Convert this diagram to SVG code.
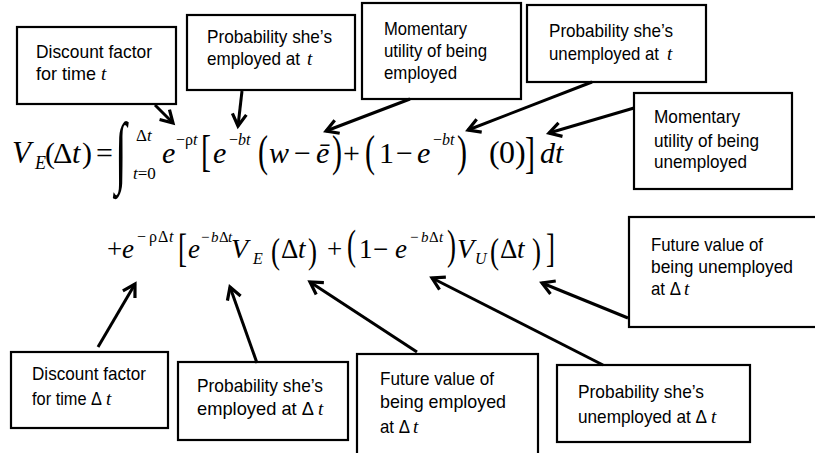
<svg xmlns="http://www.w3.org/2000/svg" width="815" height="453" viewBox="0 0 815 453">
<defs>
<style>
.box rect{fill:#fff;stroke:#000;stroke-width:2.2}
.lbl{font-family:"Liberation Sans",Arial,sans-serif;font-size:19px;fill:#000}
.it{font-family:"Liberation Serif","Times New Roman",serif;font-style:italic;font-size:19px;fill:#000}
.m{font-family:"Liberation Serif","Times New Roman",serif;fill:#000}
.i{font-style:italic}
.conn line{stroke:#000;stroke-width:3;marker-end:url(#ah)}
</style>
<marker id="ah" markerUnits="userSpaceOnUse" markerWidth="20" markerHeight="20" viewBox="0 0 20 20" refX="15" refY="10" orient="auto">
<path d="M3,3 L15,10 L3,17" fill="none" stroke="#000" stroke-width="3.2" stroke-linejoin="miter"/>
</marker>
</defs>
<rect width="815" height="453" fill="#fff"/>

<g id="equation" class="m">
<text y="163" font-size="31" class="i" x="12">V</text>
<text y="169" font-size="18" class="i" x="35">E</text>
<text y="163" font-size="30" x="45">(</text>
<text y="163" font-size="30" x="53">Δ</text>
<text y="163" font-size="30" class="i" x="72">t</text>
<text y="163" font-size="30" x="82">)</text>
<text y="163" font-size="30" x="96">=</text>
<text transform="translate(115,178) scale(1,1.9)" font-size="42">∫</text>
<text y="141" font-size="17" x="136">Δ<tspan class="i">t</tspan></text>
<text y="179" font-size="17" x="133"><tspan class="i">t</tspan>=0</text>
<text y="163" font-size="30" class="i" x="162">e</text>
<text y="145" font-size="16" x="176">−ρ<tspan class="i">t</tspan></text>
<text transform="translate(201,166) scale(1,1.5)" font-size="30">[</text>
<text y="163" font-size="30" class="i" x="213">e</text>
<text y="145" font-size="16" x="229">−<tspan class="i">bt</tspan></text>
<text transform="translate(258,166) scale(1,1.48)" font-size="30">(</text>
<text y="163" font-size="30" class="i" x="269">w</text>
<text y="163" font-size="30" x="294">−</text>
<text y="163" font-size="30" class="i" x="316">ē</text>
<text transform="translate(332,166) scale(1,1.48)" font-size="30">)</text>
<text y="163" font-size="30" x="343">+</text>
<text transform="translate(365,166) scale(1,1.48)" font-size="30">(</text>
<text y="163" font-size="30" x="379">1</text>
<text y="163" font-size="30" x="396">−</text>
<text y="163" font-size="30" class="i" x="417">e</text>
<text y="145" font-size="16" x="433">−<tspan class="i">bt</tspan></text>
<text transform="translate(457,166) scale(1,1.48)" font-size="30">)</text>
<text y="163" font-size="32" x="489">(</text>
<text y="163" font-size="32" x="499">0</text>
<text y="163" font-size="32" x="515">)</text>
<text transform="translate(525,168) scale(1,1.5)" font-size="30">]</text>
<text y="163" font-size="30" class="i" x="540">dt</text>

<text y="258" font-size="27" x="107">+</text>
<text y="258" font-size="27" class="i" x="122">e</text>
<text y="242" font-size="16"><tspan x="137">−</tspan><tspan x="149">ρ</tspan><tspan x="158">Δ</tspan><tspan x="169" class="i">t</tspan></text>
<text transform="translate(178,262) scale(1,1.45)" font-size="27">[</text>
<text y="258" font-size="27" class="i" x="188">e</text>
<text y="242" font-size="15"><tspan x="201">−</tspan><tspan x="211" class="i">b</tspan><tspan x="219">Δ</tspan><tspan x="228" class="i">t</tspan></text>
<text y="258" font-size="28" class="i" x="231">V</text>
<text y="264" font-size="16" class="i" x="253">E</text>
<text transform="translate(271,263) scale(1,1.3)" font-size="27">(</text>
<text y="258" font-size="27" x="281">Δ</text>
<text y="258" font-size="27" class="i" x="298">t</text>
<text transform="translate(308,263) scale(1,1.3)" font-size="27">)</text>
<text y="258" font-size="27" x="327">+</text>
<text transform="translate(347,259) scale(1,1.55)" font-size="27">(</text>
<text y="258" font-size="27" x="359">1</text>
<text y="258" font-size="27" x="373">−</text>
<text y="258" font-size="27" class="i" x="395">e</text>
<text y="242" font-size="15"><tspan x="410">−</tspan><tspan x="421" class="i">b</tspan><tspan x="429">Δ</tspan><tspan x="439" class="i">t</tspan></text>
<text transform="translate(447,259) scale(1,1.55)" font-size="27">)</text>
<text y="258" font-size="28" class="i" x="457">V</text>
<text y="264" font-size="16" class="i" x="475">U</text>
<text transform="translate(490,263) scale(1,1.3)" font-size="27">(</text>
<text y="258" font-size="27" x="500">Δ</text>
<text y="258" font-size="27" class="i" x="517">t</text>
<text transform="translate(532,263) scale(1,1.3)" font-size="27">)</text>
<text transform="translate(546,262) scale(1,1.45)" font-size="27">]</text>
</g>

<g id="n1" class="box"><rect x="17" y="27" width="159" height="77"/>
<text class="lbl" x="36" y="58" textLength="116" lengthAdjust="spacingAndGlyphs">Discount factor</text>
<text class="lbl" x="36" y="80" textLength="60" lengthAdjust="spacingAndGlyphs">for time</text>
<text class="it" x="101" y="80">t</text></g>

<g id="n2" class="box"><rect x="187" y="15" width="168" height="75"/>
<text class="lbl" x="207" y="43" textLength="125" lengthAdjust="spacingAndGlyphs">Probability she’s</text>
<text class="lbl" x="207" y="65" textLength="93" lengthAdjust="spacingAndGlyphs">employed at</text>
<text class="it" x="307" y="65">t</text></g>

<g id="n3" class="box"><rect x="362" y="3" width="159" height="96"/>
<text class="lbl" x="384" y="35" textLength="83" lengthAdjust="spacingAndGlyphs">Momentary</text>
<text class="lbl" x="384" y="57" textLength="103" lengthAdjust="spacingAndGlyphs">utility of being</text>
<text class="lbl" x="384" y="79" textLength="73" lengthAdjust="spacingAndGlyphs">employed</text></g>

<g id="n4" class="box"><rect x="527" y="5" width="179" height="77"/>
<text class="lbl" x="549" y="37" textLength="124" lengthAdjust="spacingAndGlyphs">Probability she’s</text>
<text class="lbl" x="549" y="60" textLength="110" lengthAdjust="spacingAndGlyphs">unemployed at</text>
<text class="it" x="667" y="60">t</text></g>

<g id="n5" class="box"><rect x="634" y="93" width="158" height="96"/>
<text class="lbl" x="654" y="123" textLength="86" lengthAdjust="spacingAndGlyphs">Momentary</text>
<text class="lbl" x="654" y="147" textLength="105" lengthAdjust="spacingAndGlyphs">utility of being</text>
<text class="lbl" x="654" y="168" textLength="93" lengthAdjust="spacingAndGlyphs">unemployed</text></g>

<g id="n6" class="box"><rect x="629" y="217" width="195" height="110"/>
<text class="lbl" x="651" y="251" textLength="112" lengthAdjust="spacingAndGlyphs">Future value of</text>
<text class="lbl" x="651" y="273" textLength="142" lengthAdjust="spacingAndGlyphs">being unemployed</text>
<text class="lbl" x="651" y="295" textLength="30" lengthAdjust="spacingAndGlyphs">at Δ</text>
<text class="it" x="684" y="295">t</text></g>

<g id="n7" class="box"><rect x="557" y="365" width="193" height="77"/>
<text class="lbl" x="578" y="398" textLength="126" lengthAdjust="spacingAndGlyphs">Probability she’s</text>
<text class="lbl" x="578" y="423" textLength="129" lengthAdjust="spacingAndGlyphs">unemployed at Δ</text>
<text class="it" x="711" y="423">t</text></g>

<g id="n8" class="box"><rect x="357" y="354" width="181" height="110"/>
<text class="lbl" x="380" y="385" textLength="114" lengthAdjust="spacingAndGlyphs">Future value of</text>
<text class="lbl" x="380" y="408" textLength="126" lengthAdjust="spacingAndGlyphs">being  employed</text>
<text class="lbl" x="380" y="433" textLength="30" lengthAdjust="spacingAndGlyphs">at Δ</text>
<text class="it" x="413" y="433">t</text></g>

<g id="n9" class="box"><rect x="178" y="362" width="170" height="78"/>
<text class="lbl" x="197" y="392" textLength="126" lengthAdjust="spacingAndGlyphs">Probability she’s</text>
<text class="lbl" x="197" y="415" textLength="117" lengthAdjust="spacingAndGlyphs">employed at Δ</text>
<text class="it" x="318" y="415">t</text></g>

<g id="n10" class="box"><rect x="11" y="352" width="157" height="76"/>
<text class="lbl" x="32" y="380" textLength="114" lengthAdjust="spacingAndGlyphs">Discount factor</text>
<text class="lbl" x="32" y="405" textLength="70" lengthAdjust="spacingAndGlyphs">for time Δ</text>
<text class="it" x="106" y="405">t</text></g>

<g id="connectors" class="conn">
<line x1="155" y1="105" x2="173" y2="123"/>
<line x1="242" y1="91" x2="238" y2="126"/>
<line x1="410" y1="99" x2="326" y2="131"/>
<line x1="592" y1="82" x2="468" y2="130"/>
<line x1="634" y1="108" x2="549" y2="133"/>
<line x1="628" y1="318" x2="542" y2="283"/>
<line x1="603" y1="365" x2="432" y2="278"/>
<line x1="417" y1="352" x2="310" y2="282"/>
<line x1="257" y1="363" x2="230" y2="287"/>
<line x1="98" y1="347" x2="135" y2="284"/>
</g>
</svg>
